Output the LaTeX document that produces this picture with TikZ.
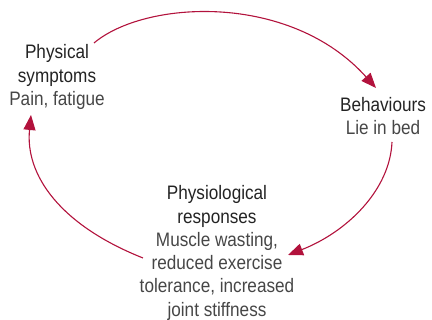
\documentclass[tikz,border=0pt]{standalone}
\usepackage{fontspec}
\setmainfont[FakeStretch=0.88]{Liberation Sans}
\usetikzlibrary{arrows.meta}
\definecolor{cyclered}{RGB}{178,18,60}
\definecolor{headtext}{RGB}{35,35,35}
\definecolor{bodytext}{RGB}{70,70,70}
\tikzset{
  label text/.style={align=center, inner sep=0pt, font=\fontsize{19.5}{23.3}\selectfont},
  cycle arrow/.style={draw=cyclered, line width=1.1pt, -{Triangle[length=15pt,width=12pt]}, fill=none}
}
\begin{document}
\begin{tikzpicture}[x=1pt,y=-1pt]
\useasboundingbox (0,0) rectangle (432,320);
\node[label text] (sym) at (57,77) {\color{headtext}Physical\\\color{headtext}symptoms\\\color{bodytext}Pain, fatigue};
\node[label text] (beh) at (383,116) {\color{headtext}Behaviours\\\color{bodytext}Lie in bed};
\node[label text] (phy) at (217,253) {\color{headtext}Physiological\\\color{headtext}responses\\\color{bodytext}Muscle wasting,\\\color{bodytext}reduced exercise\\\color{bodytext}tolerance, increased\\\color{bodytext}joint stiffness};
\coordinate (a1s) at (94,43);
\coordinate (a1e) at (376,88);
\coordinate (a2s) at (392,142);
\coordinate (a2e) at (288,255);
\coordinate (a3s) at (143,258);
\coordinate (a3e) at (31,115);
\draw[cycle arrow] (a1s) .. controls (145,0) and (290,-8) .. (a1e);
\draw[cycle arrow] (a2s) .. controls (390,190) and (347,232) .. (a2e);
\draw[cycle arrow] (a3s) .. controls (60,225) and (25,175) .. (a3e);
\end{tikzpicture}
\end{document}
